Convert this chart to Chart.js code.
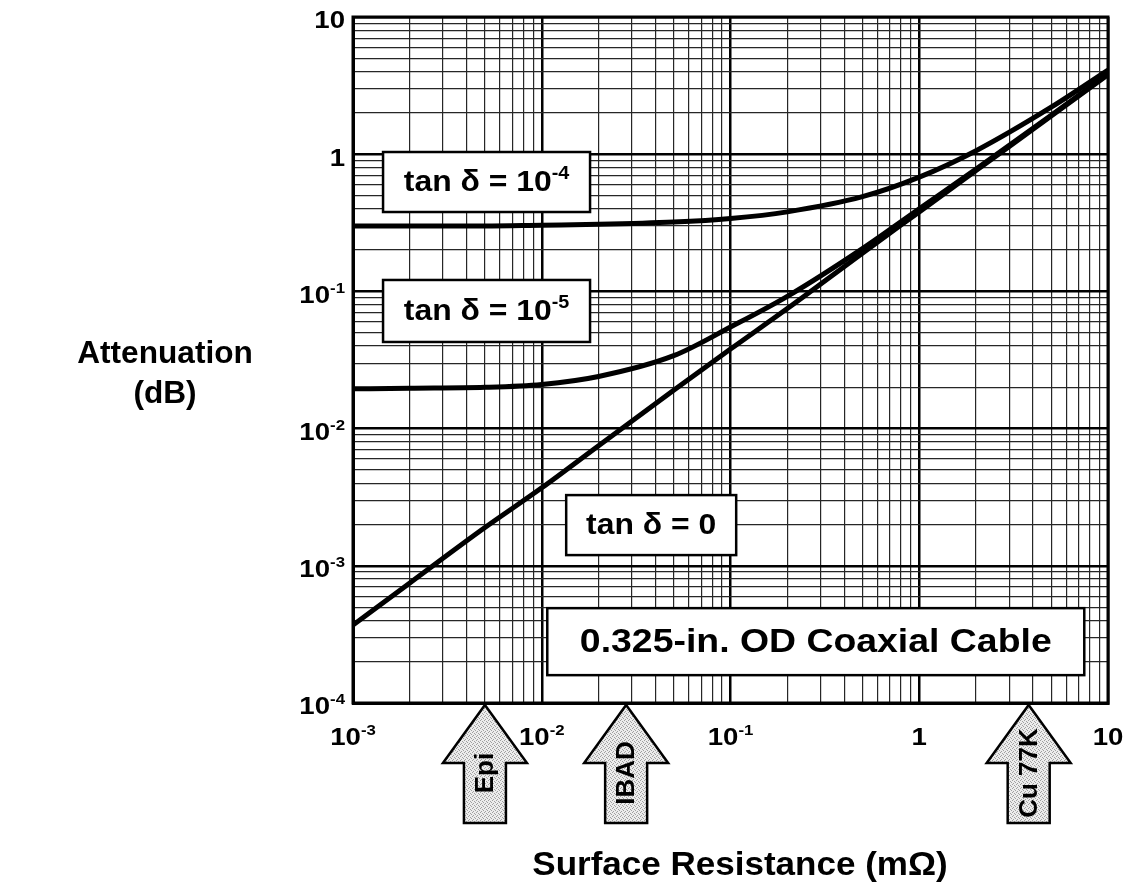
<!DOCTYPE html>
<html>
<head>
<meta charset="utf-8">
<script src="https://cdn.jsdelivr.net/npm/chart.js@4.4.1/dist/chart.umd.min.js"></script>
<style>
  html, body { margin: 0; padding: 0; background: #fff; }
  #wrap { width: 1123px; height: 892px; }
</style>
</head>
<body>
<div id="wrap"><canvas id="chart"></canvas></div>
<script>
// surface resistance (mOhm) where the curves were read
const rs = [0.001, 0.002, 0.005, 0.01, 0.02, 0.05, 0.1, 0.2, 0.5, 1, 2, 5, 10];
// attenuation (dB)
const attTan0   = [0.00037, 0.00075, 0.0019, 0.0037, 0.0075, 0.019, 0.038, 0.075, 0.19, 0.38, 0.76, 1.9, 3.8];
const attTan1e5 = [0.0195, 0.0197, 0.020, 0.021, 0.024, 0.034, 0.055, 0.092, 0.205, 0.40, 0.78, 1.92, 3.85];
const attTan1e4 = [0.30, 0.30, 0.30, 0.304, 0.308, 0.32, 0.34, 0.38, 0.49, 0.68, 1.06, 2.2, 4.1];

// tick labels (base, exponent)
const xTickValues = [0.001, 0.01, 0.1, 1, 10];
const xTickLabels = [["10", "-3"], ["10", "-2"], ["10", "-1"], ["1", ""], ["10", ""]];
const yTickValues = [0.0001, 0.001, 0.01, 0.1, 1, 10];
const yTickLabels = [["10", "-4"], ["10", "-3"], ["10", "-2"], ["10", "-1"], ["1", ""], ["10", ""]];

// labelled boxes inside the plot (centre in data units)
const boxTexts = [["tan δ = 10", "-4"], ["tan δ = 10", "-5"], ["tan δ = 0", ""], ["0.325-in. OD Coaxial Cable", ""]];
const boxX = [0.0051, 0.0051, 0.038, 0.283];
const boxY = [0.627, 0.072, 0.00198, 0.00028];

// arrows under the x axis
const arrowNames = ["Epi", "IBAD", "Cu 77K"];
const arrowX = [0.005, 0.028, 3.8];

const FONT = '"Liberation Sans", Arial, Helvetica, sans-serif';
const STRETCH = 1.1; // the scanned lettering is a little wide
const boxStyle = [
  { w: 207, h: 60, size: 29 },
  { w: 207, h: 62, size: 29 },
  { w: 170, h: 60, size: 29 },
  { w: 537, h: 67, size: 34 }
];

function gridValues(minExp, maxExp) {
  const out = [];
  for (let e = minExp; e < maxExp; e++) {
    for (let m = 1; m <= 9; m++) out.push(m * Math.pow(10, e));
  }
  out.push(Math.pow(10, maxExp));
  return out;
}

function isDecade(v) {
  const l = Math.log10(v);
  return Math.abs(l - Math.round(l)) < 1e-6;
}

// text with a small raised exponent
function drawSup(ctx, base, sup, x, y, size, align, sx) {
  sx = sx || STRETCH;
  const supSize = Math.round(size * 0.62);
  ctx.font = "bold " + size + "px " + FONT;
  const wb = ctx.measureText(base).width;
  ctx.font = "bold " + supSize + "px " + FONT;
  const ws = sup ? ctx.measureText(sup).width : 0;
  const total = (wb + ws) * sx;
  let left = x - total / 2;
  if (align === "right") left = x - total;
  ctx.save();
  ctx.translate(left, y);
  ctx.scale(sx, 1);
  ctx.textAlign = "left";
  ctx.textBaseline = "middle";
  ctx.font = "bold " + size + "px " + FONT;
  ctx.fillText(base, 0, 0);
  if (sup) {
    ctx.font = "bold " + supSize + "px " + FONT;
    ctx.fillText(sup, wb, -size * 0.32);
  }
  ctx.restore();
}

// stipple for the arrows
function stipple(ctx) {
  const c = document.createElement("canvas");
  c.width = 4; c.height = 4;
  const p = c.getContext("2d");
  p.fillStyle = "#ececec";
  p.fillRect(0, 0, 4, 4);
  p.fillStyle = "#a0a0a0";
  p.fillRect(0, 0, 1, 1);
  p.fillRect(2, 1, 1, 1);
  p.fillRect(1, 3, 1, 1);
  p.fillRect(3, 2, 1, 1);
  return ctx.createPattern(c, "repeat");
}

const decorations = {
  id: "decorations",
  afterDatasetsDraw(chart) {
    const ctx = chart.ctx;
    const xs = chart.scales.x, ys = chart.scales.y;
    ctx.save();
    boxTexts.forEach((t, i) => {
      const st = boxStyle[i];
      const cx = xs.getPixelForValue(boxX[i]);
      const cy = ys.getPixelForValue(boxY[i]);
      ctx.fillStyle = "#fff";
      ctx.fillRect(cx - st.w / 2, cy - st.h / 2, st.w, st.h);
      ctx.lineWidth = 2.5;
      ctx.strokeStyle = "#000";
      ctx.strokeRect(cx - st.w / 2, cy - st.h / 2, st.w, st.h);
      ctx.fillStyle = "#000";
      drawSup(ctx, t[0], t[1], cx, cy + 1, st.size, "center");
    });
    ctx.restore();
  },
  afterDraw(chart) {
    const ctx = chart.ctx;
    const area = chart.chartArea;
    const xs = chart.scales.x, ys = chart.scales.y;
    ctx.save();

    // frame
    ctx.lineWidth = 3;
    ctx.strokeStyle = "#000";
    ctx.strokeRect(area.left, area.top, area.right - area.left, area.bottom - area.top);

    // tick labels
    ctx.fillStyle = "#000";
    yTickValues.forEach((v, i) => {
      drawSup(ctx, yTickLabels[i][0], yTickLabels[i][1], area.left - 8, ys.getPixelForValue(v) + 5, 23, "right", 1.2);
    });
    xTickValues.forEach((v, i) => {
      drawSup(ctx, xTickLabels[i][0], xTickLabels[i][1], xs.getPixelForValue(v), area.bottom + 36, 23, "center", 1.2);
    });

    // axis titles
    drawSup(ctx, "Attenuation", "", 165, 354, 31, "center", 1.02);
    drawSup(ctx, "(dB)", "", 165, 394, 31, "center", 1.02);
    drawSup(ctx, "Surface Resistance (mΩ)", "", 740, 866, 34, "center", 1.03);

    // arrows
    const pat = stipple(ctx);
    arrowX.forEach((v, i) => {
      const x = xs.getPixelForValue(v);
      const tip = area.bottom + 2;
      const headB = tip + 58, end = tip + 118;
      ctx.beginPath();
      ctx.moveTo(x, tip);
      ctx.lineTo(x + 42, headB);
      ctx.lineTo(x + 21, headB);
      ctx.lineTo(x + 21, end);
      ctx.lineTo(x - 21, end);
      ctx.lineTo(x - 21, headB);
      ctx.lineTo(x - 42, headB);
      ctx.closePath();
      ctx.fillStyle = pat;
      ctx.fill();
      ctx.lineWidth = 2.5;
      ctx.lineJoin = "miter";
      ctx.strokeStyle = "#000";
      ctx.stroke();

      ctx.save();
      ctx.translate(x + 1, tip + 68);
      ctx.rotate(-Math.PI / 2);
      ctx.fillStyle = "#000";
      ctx.font = "bold 26px " + FONT;
      ctx.textAlign = "center";
      ctx.textBaseline = "middle";
      ctx.fillText(arrowNames[i], 0, 0);
      ctx.restore();
    });
    ctx.restore();
  }
};

function lineSet(data) {
  return {
    data: rs.map((x, i) => ({ x: x, y: data[i] })),
    borderColor: "#000",
    borderWidth: 5,
    pointRadius: 0,
    cubicInterpolationMode: "monotone",
    fill: false
  };
}

function gridOpts() {
  return {
    drawTicks: false,
    color: ctx => (ctx.tick && isDecade(ctx.tick.value)) ? "#000" : "#262626",
    lineWidth: ctx => (ctx.tick && isDecade(ctx.tick.value)) ? 2.5 : 1.2
  };
}

new Chart(document.getElementById("chart"), {
  type: "line",
  data: {
    datasets: [lineSet(attTan1e4), lineSet(attTan1e5), lineSet(attTan0)]
  },
  options: {
    responsive: true,
    maintainAspectRatio: false,
    animation: false,
    layout: { padding: { left: 353, right: 15, top: 17, bottom: 189 } },
    plugins: { legend: { display: false }, tooltip: { enabled: false } },
    scales: {
      x: {
        type: "logarithmic",
        min: 0.001,
        max: 10,
        afterBuildTicks: s => { s.ticks = gridValues(-3, 1).map(v => ({ value: v })); },
        ticks: { display: false },
        grid: gridOpts(),
        border: { color: "#000", width: 3 }
      },
      y: {
        type: "logarithmic",
        min: 0.0001,
        max: 10,
        afterBuildTicks: s => { s.ticks = gridValues(-4, 1).map(v => ({ value: v })); },
        ticks: { display: false },
        grid: gridOpts(),
        border: { color: "#000", width: 3 }
      }
    }
  },
  plugins: [decorations]
});
</script>
</body>
</html>
